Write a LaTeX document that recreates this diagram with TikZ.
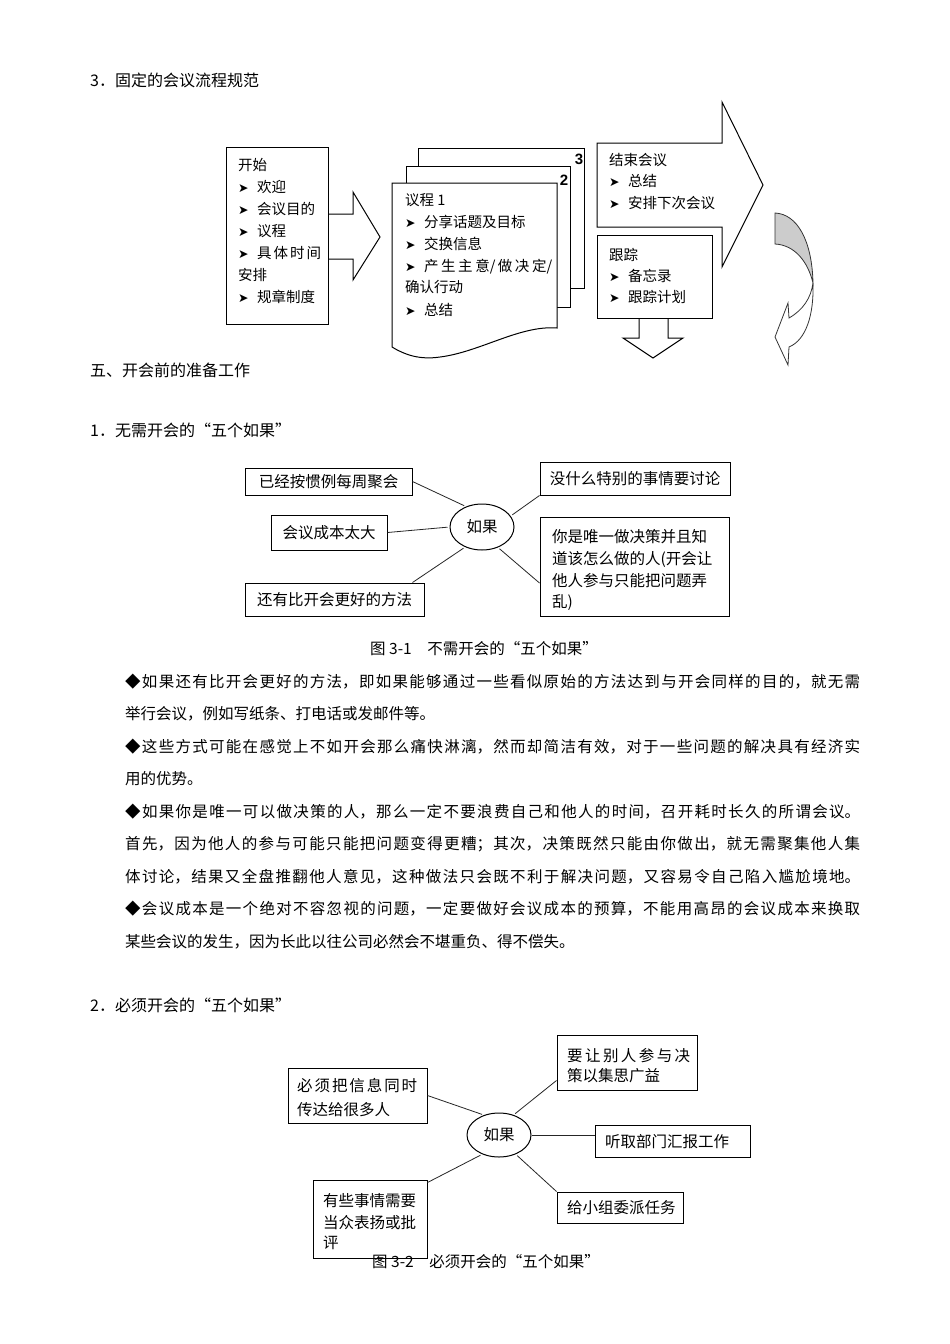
\documentclass[tikz,border=0pt]{standalone}
\usepackage{fontspec}
\setmainfont{Noto Sans CJK SC}
\newfontfamily\dv{DejaVu Sans}
\newfontfamily\libs{Liberation Sans}
\usetikzlibrary{shapes.geometric}
\XeTeXlinebreaklocale "zh"
\XeTeXlinebreakskip=0pt plus 2pt
\newcommand{\myfh}{\fontsize{16}{16}\selectfont}
\newcommand{\myfp}{\fontsize{15.5}{15.5}\selectfont}
\newcommand{\myfe}{\fontsize{15.5}{15.5}\selectfont}
\newcommand{\myfb}{\fontsize{14.5}{14.5}\selectfont}
\newcommand{\mybul}{\makebox[19pt][l]{\raisebox{0.3pt}{\dv\fontsize{12.5}{12.5}\selectfont ➤}}}
\newcommand{\myfull}[2]{\parbox[t]{#1}{\parfillskip=0pt\parindent=0pt\leavevmode #2}}
\begin{document}
\begin{tikzpicture}[x=1pt,y=-1pt,
  ln/.style={anchor=base west,inner sep=0pt},
  bx/.style={draw,line width=1pt,fill=white,inner sep=0pt,font=\myfe},
  oval/.style={draw,ellipse,line width=1pt,fill=white,inner sep=0pt,minimum width=64pt,font=\myfe},
  cn/.style={line width=0.8pt,black!85},
  shp/.style={line width=1pt,fill=white},
  num/.style={inner sep=0pt,font=\libs\bfseries\fontsize{15}{15}\selectfont}]
\fill[white] (0,0) rectangle (950,1344);
\useasboundingbox (0,0) rectangle (950,1344);

% ---------- heading ----------
\node[ln,font=\myfh] (h1) at (90,86) {3．固定的会议流程规范};

% ---------- start box with arrow ----------
\draw[line width=1pt] (328,214) -- (353,214) -- (353,192) -- (380,237) -- (353,280) -- (353,259) -- (328,259);
\node[bx,minimum width=102pt,minimum height=177pt] (start) at (277,235.5) {};
\begin{scope}[font=\myfb]
\node[ln] (s1) at (238,170.5) {开始};
\node[ln] (s2) at (238,192.5) {\mybul 欢迎};
\node[ln] (s3) at (238,214.5) {\mybul 会议目的};
\node[ln] (s4) at (238,236.5) {\mybul 议程};
\node[ln] (s5) at (238,258.5) {\mybul \myfull{64pt}{具体时间}};
\node[ln] (s6) at (238,280.5) {安排};
\node[ln] (s7) at (238,302.5) {\mybul 规章制度};
\end{scope}

% ---------- stacked agenda pages ----------
\draw[shp] (418,148) rectangle (584,288);
\draw[shp] (406,166) rectangle (570,307);
\draw[shp] (392,183) -- (557,183) -- (557,328) .. controls (520,325) and (480,352) .. (440,357) .. controls (420,360) and (405,355) .. (392,347) -- cycle;
\node[num] (n3) at (579,159) {3};
\node[num] (n2) at (564,180) {2};
\begin{scope}[font=\myfb]
\node[ln] (a1) at (405,205.5) {议程 1};
\node[ln] (a2) at (405,227.5) {\mybul 分享话题及目标};
\node[ln] (a3) at (405,249.5) {\mybul 交换信息};
\node[ln] (a4) at (405,271.5) {\mybul \myfull{128pt}{产生主意/做决定/}};
\node[ln] (a5) at (405,292.5) {确认行动};
\node[ln] (a6) at (405,315.5) {\mybul 总结};
\end{scope}

% ---------- end meeting arrow ----------
\draw[shp] (597,143) -- (722,143) -- (722,102) -- (763,185) -- (722,267) -- (722,227) -- (597,227) -- cycle;
\node[bx,minimum width=115pt,minimum height=83pt] (follow) at (654.5,276.5) {};
\draw[line width=1pt] (639,318) -- (639,338) -- (623,338) -- (653,358) -- (683,338) -- (668,338) -- (668,318);
\begin{scope}[font=\myfb]
\node[ln] (e1) at (609,165.5) {结束会议};
\node[ln] (e2) at (609,186.5) {\mybul 总结};
\node[ln] (e3) at (609,208.5) {\mybul 安排下次会议};
\node[ln] (f1) at (609,260.5) {跟踪};
\node[ln] (f2) at (609,281.5) {\mybul 备忘录};
\node[ln] (f3) at (609,302.5) {\mybul 跟踪计划};
\end{scope}

% ---------- curved arrow ----------
\filldraw[line width=0.8pt,draw=black!80,fill=gray!40] (775,213) .. controls (797,214) and (812,240) .. (813,283) .. controls (808,262) and (795,245) .. (775,244) -- cycle;
\draw[line width=0.8pt,draw=black!80,fill=white] (813,283) .. controls (814,315) and (806,340) .. (789,347) -- (788,365) -- (775,337) -- (788,303) -- (789,318) .. controls (803,310) and (811,298) .. (813,283);

% ---------- section headings ----------
\node[ln,font=\myfh] (h2) at (90,376) {五、开会前的准备工作};
\node[ln,font=\myfh] (h3) at (90,436) {1．无需开会的“五个如果”};

% ---------- figure 3-1 ----------
\node[oval,minimum height=46pt] (ell1) at (482,527) {如果};
\node[bx,minimum width=167pt,minimum height=27pt] (A) at (328.5,481.5) {已经按惯例每周聚会};
\node[bx,minimum width=116pt,minimum height=35pt] (B) at (329,532.5) {会议成本太大};
\node[bx,minimum width=179pt,minimum height=33pt] (C) at (334.5,599.5) {还有比开会更好的方法};
\node[bx,minimum width=190pt,minimum height=33pt] (D) at (635,478.5) {没什么特别的事情要讨论};
\node[bx,minimum width=189pt,minimum height=99pt] (E) at (634.5,566.5) {};
\begin{scope}[font=\myfe]
\node[ln] (E1) at (552,542) {你是唯一做决策并且知};
\node[ln] (E2) at (552,564) {道该怎么做的人(开会让};
\node[ln] (E3) at (552,586) {他人参与只能把问题弄};
\node[ln] (E4) at (552,607) {乱)};
\end{scope}
\draw[cn,shorten >=2pt] (A.east) -- (ell1.128);
\draw[cn,shorten >=2pt] (B.east) -- (ell1.west);
\draw[cn,shorten >=2pt] ([xshift=-12pt]C.north east) -- (ell1.230);
\draw[cn,shorten <=2pt] (ell1.21) -- (D.south west);
\draw[cn,shorten <=2pt] (ell1.308) -- ([yshift=-16.5pt]E.west);
\node[font=\myfe] (cap1) at (484,649) {图 3-1　不需开会的“五个如果”};

% ---------- paragraphs ----------
\begin{scope}[font=\myfp]
\node[ln] (p1) at (125,687) {\myfull{735pt}{◆如果还有比开会更好的方法，即如果能够通过一些看似原始的方法达到与开会同样的目的，就无需}};
\node[ln] (p2) at (125,719) {举行会议，例如写纸条、打电话或发邮件等。};
\node[ln] (p3) at (125,752) {\myfull{735pt}{◆这些方式可能在感觉上不如开会那么痛快淋漓，然而却简洁有效，对于一些问题的解决具有经济实}};
\node[ln] (p4) at (125,784) {用的优势。};
\node[ln] (p5) at (125,817) {\myfull{735pt}{◆如果你是唯一可以做决策的人，那么一定不要浪费自己和他人的时间，召开耗时长久的所谓会议。}};
\node[ln] (p6) at (125,849) {\myfull{735pt}{首先，因为他人的参与可能只能把问题变得更糟；其次，决策既然只能由你做出，就无需聚集他人集}};
\node[ln] (p7) at (125,882) {\myfull{735pt}{体讨论，结果又全盘推翻他人意见，这种做法只会既不利于解决问题，又容易令自己陷入尴尬境地。}};
\node[ln] (p8) at (125,914) {\myfull{735pt}{◆会议成本是一个绝对不容忽视的问题，一定要做好会议成本的预算，不能用高昂的会议成本来换取}};
\node[ln] (p9) at (125,947) {某些会议的发生，因为长此以往公司必然会不堪重负、得不偿失。};
\end{scope}

% ---------- figure 3-2 ----------
\node[ln,font=\myfh] (h4) at (90,1011) {2．必须开会的“五个如果”};
\node[oval,minimum height=44pt] (ell2) at (499,1135) {如果};
\node[bx,minimum width=139pt,minimum height=55pt] (F) at (357.5,1095.5) {};
\node[bx,minimum width=140pt,minimum height=55pt] (G) at (627,1062.5) {};
\node[bx,minimum width=155pt,minimum height=32pt] (H) at (672.5,1141) {};
\node[bx,minimum width=126pt,minimum height=31pt] (I) at (620,1207.5) {};
\node[bx,minimum width=114pt,minimum height=78pt] (J) at (370,1219) {};
\begin{scope}[font=\myfe]
\node[ln] (F1) at (297,1091) {\myfull{120pt}{必须把信息同时}};
\node[ln] (F2) at (297,1115) {传达给很多人};
\node[ln] (G1) at (567,1061) {\myfull{123pt}{要让别人参与决}};
\node[ln] (G2) at (567,1081) {策以集思广益};
\node[ln] (H1) at (605,1147) {听取部门汇报工作};
\node[ln] (I1) at (567,1213) {给小组委派任务};
\node[ln] (J1) at (323,1206) {有些事情需要};
\node[ln] (J2) at (323,1228) {当众表扬或批};
\node[ln] (J3) at (323,1248) {评};
\end{scope}
\draw[cn,shorten >=2pt] (F.east) -- (ell2.127);
\draw[cn,shorten >=2pt] ([yshift=10pt]G.south west) -- (ell2.54);
\draw[cn] (ell2.east) -- ([yshift=6pt]H.west);
\draw[cn,shorten <=2pt] (ell2.311) -- (I.north west);
\draw[cn,shorten <=2pt] (ell2.229) -- ([yshift=-3pt]J.north east);
\node[font=\myfe] (cap2) at (486,1262) {图 3-2　必须开会的“五个如果”};
\end{tikzpicture}
\end{document}
